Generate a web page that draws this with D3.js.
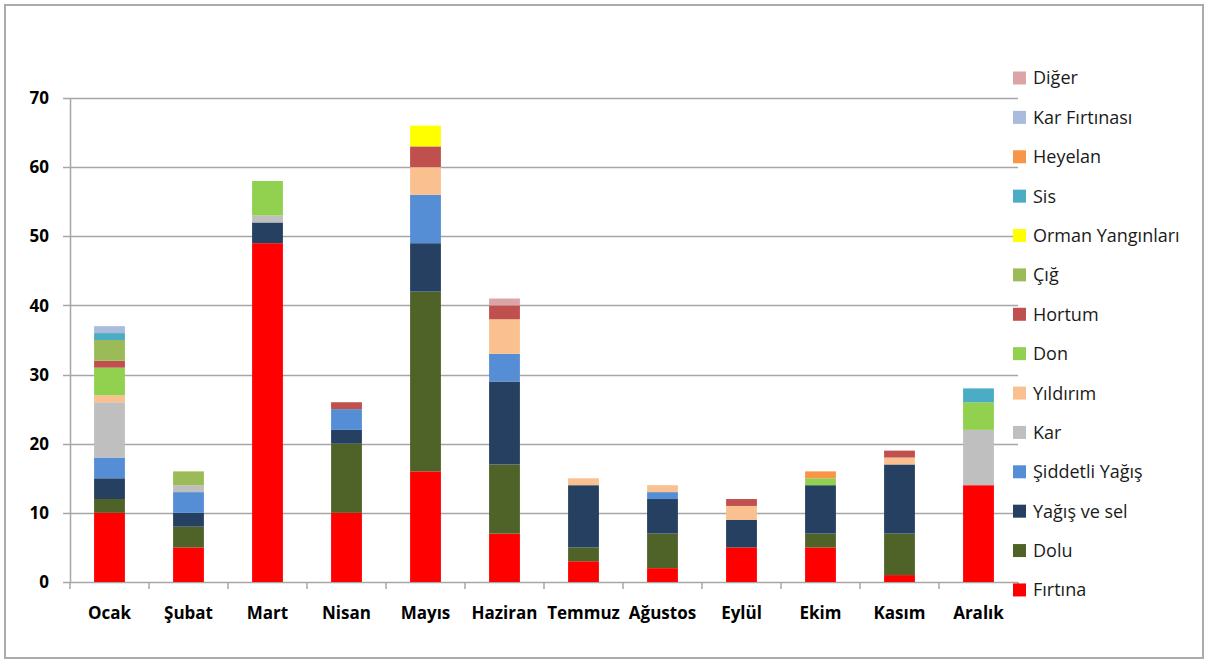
<!DOCTYPE html>
<html>
<head>
<meta charset="utf-8">
<script src="https://cdn.jsdelivr.net/npm/d3@7"></script>
<style>
  html, body { margin: 0; padding: 0; background: #fff; }
  svg { display: block; }
</style>
</head>
<body>
<svg id="chart" width="1208" height="663"></svg>
<script>
// Months on the x axis
const months = ["Ocak", "Şubat", "Mart", "Nisan", "Mayıs", "Haziran", "Temmuz", "Ağustos", "Eylül", "Ekim", "Kasım", "Aralık"];

// Event counts per month, one array per event type (stack order bottom → top)
const firtina        = [10, 5, 49, 10, 16, 7, 3, 2, 5, 5, 1, 14];
const dolu           = [2, 3, 0, 10, 26, 10, 2, 5, 0, 2, 6, 0];
const yagisVeSel     = [3, 2, 3, 2, 7, 12, 9, 5, 4, 7, 10, 0];
const siddetliYagis  = [3, 3, 0, 3, 7, 4, 0, 1, 0, 0, 0, 0];
const kar            = [8, 1, 1, 0, 0, 0, 0, 0, 0, 0, 0, 8];
const yildirim       = [1, 0, 0, 0, 4, 5, 1, 1, 2, 0, 1, 0];
const don            = [4, 0, 5, 0, 0, 0, 0, 0, 0, 1, 0, 4];
const hortum         = [1, 0, 0, 1, 3, 2, 0, 0, 1, 0, 1, 0];
const cig            = [3, 2, 0, 0, 0, 0, 0, 0, 0, 0, 0, 0];
const ormanYanginlari = [0, 0, 0, 0, 3, 0, 0, 0, 0, 0, 0, 0];
const sis            = [1, 0, 0, 0, 0, 0, 0, 0, 0, 0, 0, 2];
const heyelan        = [0, 0, 0, 0, 0, 0, 0, 0, 0, 1, 0, 0];
const karFirtinasi   = [1, 0, 0, 0, 0, 0, 0, 0, 0, 0, 0, 0];
const diger          = [0, 0, 0, 0, 0, 1, 0, 0, 0, 0, 0, 0];

const yTicks = [0, 10, 20, 30, 40, 50, 60, 70];

const series = [
  { name: "Fırtına",           values: firtina,         color: "#FF0000" },
  { name: "Dolu",              values: dolu,            color: "#4F6228" },
  { name: "Yağış ve sel",      values: yagisVeSel,      color: "#254061" },
  { name: "Şiddetli Yağış",    values: siddetliYagis,   color: "#558ED5" },
  { name: "Kar",               values: kar,             color: "#BFBFBF" },
  { name: "Yıldırım",          values: yildirim,        color: "#FAC090" },
  { name: "Don",               values: don,             color: "#92D050" },
  { name: "Hortum",            values: hortum,          color: "#C0504D" },
  { name: "Çığ",               values: cig,             color: "#9BBB59" },
  { name: "Orman Yangınları",  values: ormanYanginlari, color: "#FFFF00" },
  { name: "Sis",               values: sis,             color: "#4BACC6" },
  { name: "Heyelan",           values: heyelan,         color: "#F79646" },
  { name: "Kar Fırtınası",     values: karFirtinasi,    color: "#A9BCDB" },
  { name: "Diğer",             values: diger,           color: "#DBA5A7" }
];

// Build a table for d3.stack
const table = months.map((m, i) => {
  const row = { month: m };
  series.forEach(s => { row[s.name] = s.values[i]; });
  return row;
});

const svg = d3.select("#chart");
const W = 1208, H = 663;
const margin = { left: 70, right: 190, top: 98, bottom: 81 };
const plotW = W - margin.left - margin.right;
const plotH = H - margin.top - margin.bottom;
const font = "'Open Sans', Lato, sans-serif";

// Outer frame
svg.append("rect")
  .attr("x", 5).attr("y", 5)
  .attr("width", W - 10).attr("height", H - 10)
  .attr("fill", "#fff").attr("stroke", "#ABABAB").attr("stroke-width", 2);

const g = svg.append("g").attr("transform", `translate(${margin.left},${margin.top})`);

const x = d3.scaleBand().domain(months).range([0, plotW]).paddingInner(0.61).paddingOuter(0.305);
const y = d3.scaleLinear().domain([0, 70]).range([plotH, 0]);

// Horizontal gridlines with short left ticks
g.append("g")
  .selectAll("line")
  .data(yTicks)
  .join("line")
  .attr("x1", -7).attr("x2", plotW)
  .attr("y1", d => Math.round(y(d)) + 0.5).attr("y2", d => Math.round(y(d)) + 0.5)
  .attr("stroke", "#A6A6A6").attr("stroke-width", 1.5);

// Y tick labels
g.append("g")
  .selectAll("text")
  .data(yTicks)
  .join("text")
  .attr("x", -21).attr("y", d => y(d))
  .attr("dy", "0.36em")
  .attr("text-anchor", "end")
  .attr("font-family", font).attr("font-weight", "bold").attr("font-size", 17)
  .attr("fill", "#000")
  .text(d => d);

// Stacked bars
const stacked = d3.stack().keys(series.map(s => s.name))(table);
const colorOf = new Map(series.map(s => [s.name, s.color]));

g.append("g")
  .selectAll("g")
  .data(stacked)
  .join("g")
  .attr("fill", d => colorOf.get(d.key))
  .selectAll("rect")
  .data(d => d.filter(p => p[1] - p[0] > 0))
  .join("rect")
  .attr("x", d => x(d.data.month))
  .attr("width", x.bandwidth())
  .attr("y", d => y(d[1]))
  .attr("height", d => y(d[0]) - y(d[1]));

// Y axis line
g.append("line")
  .attr("x1", 0.5).attr("x2", 0.5)
  .attr("y1", 0).attr("y2", plotH)
  .attr("stroke", "#A6A6A6").attr("stroke-width", 1.5);

// X axis with category separators
const step = x.step();
g.append("g")
  .selectAll("line")
  .data(d3.range(months.length + 1))
  .join("line")
  .attr("x1", i => i * step).attr("x2", i => i * step)
  .attr("y1", plotH).attr("y2", plotH + 7)
  .attr("stroke", "#A6A6A6").attr("stroke-width", 1.5);

g.append("g")
  .selectAll("text")
  .data(months)
  .join("text")
  .attr("x", d => x(d) + x.bandwidth() / 2)
  .attr("y", plotH + 37)
  .attr("text-anchor", "middle")
  .attr("font-family", font).attr("font-weight", "bold").attr("font-size", 17)
  .attr("fill", "#000")
  .text(d => d);

// Legend (top = last series)
const legendItems = series.slice().reverse();
const lg = svg.append("g").attr("transform", "translate(1013,78)");
const item = lg.selectAll("g")
  .data(legendItems)
  .join("g")
  .attr("transform", (d, i) => `translate(0,${i * 39.38})`);
item.append("rect")
  .attr("x", 0).attr("y", -6.5)
  .attr("width", 13).attr("height", 13)
  .attr("fill", d => d.color);
item.append("text")
  .attr("x", 20).attr("y", 0).attr("dy", "0.36em")
  .attr("font-family", font).attr("font-size", 18)
  .attr("fill", "#1a1a1a")
  .text(d => d.name);
</script>
</body>
</html>
